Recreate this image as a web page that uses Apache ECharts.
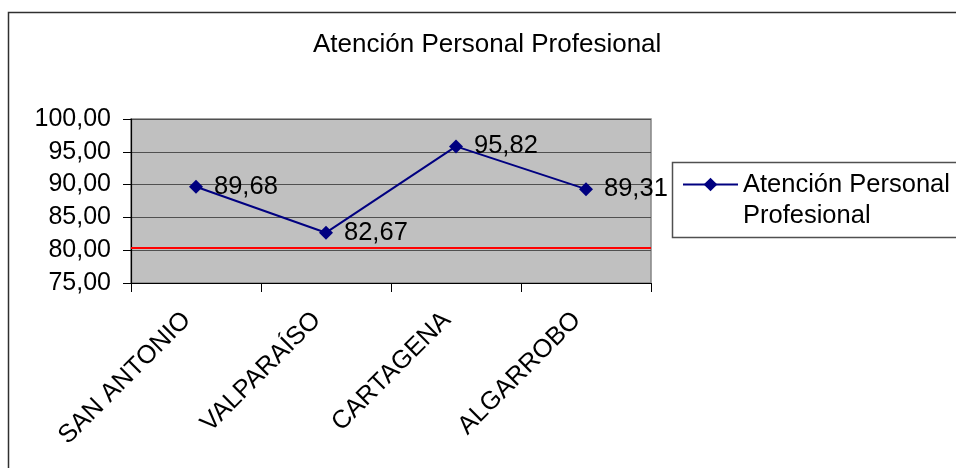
<!DOCTYPE html>
<html>
<head>
<meta charset="utf-8">
<script src="https://cdn.jsdelivr.net/npm/echarts@6/dist/echarts.min.js"></script>
<style>
html,body{margin:0;padding:0;background:#fff;}
#c{width:956px;height:468px;}
</style>
</head>
<body>
<div id="c"></div>
<script>
const titleText = 'Atención Personal Profesional';
const categories = ['SAN ANTONIO', 'VALPARAÍSO', 'CARTAGENA', 'ALGARROBO'];
const seriesName = 'Atención Personal Profesional';
const legendLines = ['Atención Personal', 'Profesional'];
const values = [89.68, 82.67, 95.82, 89.31];
const referenceLine = [80.35];
const yTicks = [75, 80, 85, 90, 95, 100];

const FONT = "'Liberation Sans', Arial, sans-serif";
const fmt = v => v.toFixed(2).replace('.', ',');

const chart = echarts.init(document.getElementById('c'), null, {renderer: 'canvas'});
chart.setOption({
  animation: false,
  backgroundColor: '#ffffff',
  title: {
    text: titleText,
    left: 313,
    top: 32,
    padding: 0,
    textStyle: {fontFamily: FONT, fontSize: 26, fontWeight: 'normal', color: '#000'}
  },
  graphic: [
    {type: 'rect', silent: true, z: -1,
     shape: {x: 8.5, y: 12.5, width: 1100, height: 600},
     style: {fill: 'none', stroke: '#303030', lineWidth: 1.5}},
    {type: 'rect', silent: true,
     shape: {x: 672.5, y: 162.5, width: 400, height: 75},
     style: {fill: '#fff', stroke: '#505050', lineWidth: 1.5}, z: 0},
    {type: 'text', silent: true, z: 10, x: 743, y: 216,
     style: {text: legendLines[1], font: "25.5px 'Liberation Sans', Arial, sans-serif",
             fill: '#000', align: 'left', verticalAlign: 'middle'}}
  ],
  legend: {
    left: 682,
    top: 169,
    padding: 0,
    itemWidth: 55,
    itemHeight: 17,
    z: 5,
    data: [seriesName],
    formatter: () => legendLines[0],
    textStyle: {fontFamily: FONT, fontSize: 25.5, color: '#000', lineHeight: 31}
  },
  grid: {
    left: 131, top: 119, right: 305, bottom: 185,
    show: true, backgroundColor: '#C0C0C0', borderColor: '#858585', borderWidth: 1.5
  },
  xAxis: {
    type: 'category',
    data: categories,
    boundaryGap: true,
    axisLine: {lineStyle: {color: '#000', width: 1.2}},
    axisTick: {show: true, length: 9, interval: 0, lineStyle: {color: '#000'}},
    axisLabel: {
      interval: 0, rotate: 45, margin: 24, padding: [0, 13, 0, 0],
      fontFamily: FONT, fontSize: 25.5, color: '#000'
    },
    splitLine: {show: false}
  },
  yAxis: {
    type: 'value',
    min: yTicks[0], max: yTicks[yTicks.length - 1], interval: 5,
    axisLine: {show: true, lineStyle: {color: '#000', width: 1.2}},
    axisTick: {show: true, length: 8, lineStyle: {color: '#000'}},
    axisLabel: {margin: 20, fontFamily: FONT, fontSize: 25, color: '#000', formatter: v => fmt(v)},
    splitLine: {show: true, lineStyle: {color: '#505050', width: 1.2}}
  },
  series: [{
    name: seriesName,
    type: 'line',
    data: values,
    symbol: 'diamond',
    symbolSize: 14,
    lineStyle: {color: '#000080', width: 2},
    itemStyle: {color: '#000080'},
    label: {
      show: true, position: 'right', distance: 11,
      fontFamily: FONT, fontSize: 25.5, color: '#000',
      formatter: p => fmt(p.value)
    },
    markLine: {
      silent: true,
      symbol: ['none', 'none'],
      label: {show: false},
      lineStyle: {color: '#FF0000', width: 2, type: 'solid'},
      data: [{yAxis: referenceLine[0]}]
    },
    z: 3
  }]
});
</script>
</body>
</html>
